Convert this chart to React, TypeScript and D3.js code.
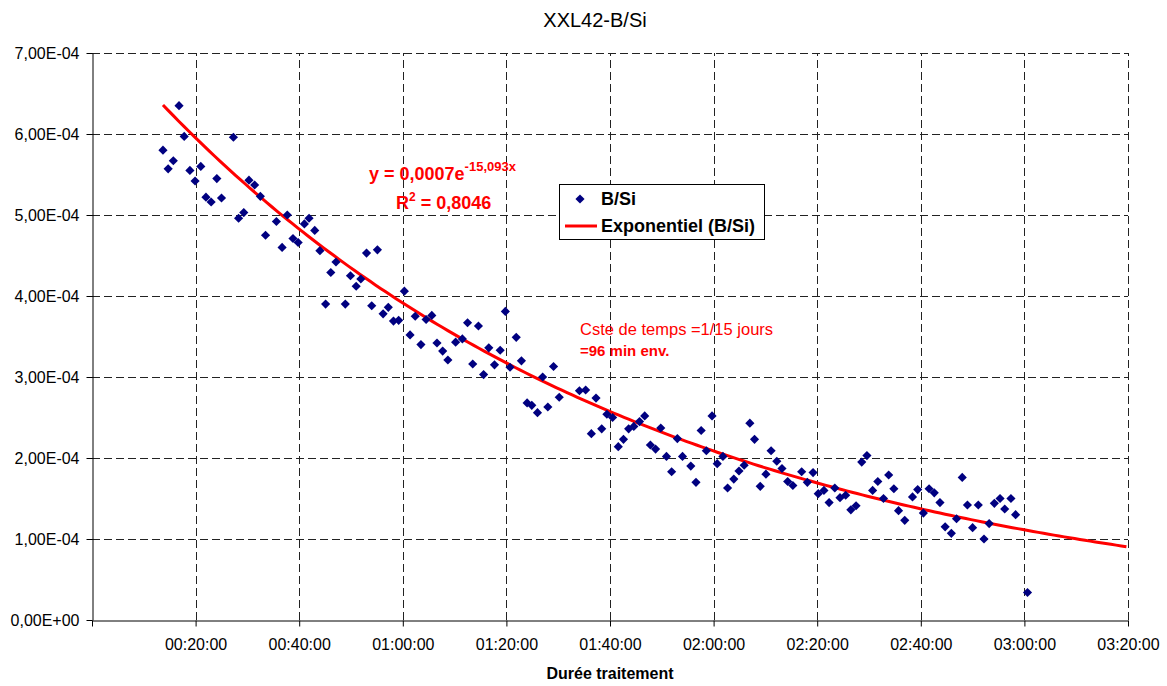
import * as d3 from 'd3'
import { useEffect, useRef } from 'react'

const WIDTH = 1167
const HEIGHT = 686
const MARGINS = { top: 53, right: 39, bottom: 66, left: 92 }
const FONT = '"Liberation Sans", Arial, sans-serif'

// elapsed treatment time, minutes
const MINUTES = [
  13.7, 14.7, 15.7, 16.8, 17.8, 18.9, 19.9, 21.0, 22.0, 23.0,
  24.1, 25.0, 27.3, 28.3, 29.3, 30.3, 31.4, 32.5, 33.5, 35.6,
  36.7, 37.7, 38.8, 39.8,
  41.0, 41.9, 43.0, 44.0, 45.1, 46.1, 47.1, 48.9, 49.9, 51.0,
  51.9, 53.0, 54.0, 55.1, 56.2, 57.2, 58.2, 59.2, 60.3, 61.4,
  62.4, 63.5, 64.5, 65.6, 66.6, 67.7, 68.7,
  70.2, 71.5, 72.5, 73.5, 74.6, 75.6, 76.6, 77.7, 78.8, 79.8,
  80.7, 81.9, 82.9, 84.0, 84.9, 86.0, 87.0, 88.0, 89.1, 90.2,
  94.1, 95.3, 96.4, 97.3, 98.4, 99.4, 100.5, 101.6, 102.6, 103.6,
  104.6, 105.7, 106.7, 107.8, 108.8, 109.8, 110.9, 111.9, 113.0, 114.0,
  115.6, 116.6, 117.6, 118.6, 119.7, 120.7, 121.8, 122.7, 123.9, 124.9,
  125.9, 127.0, 127.9, 129.0,
  130.1, 131.1, 132.2, 133.2, 134.3, 135.3, 137.0, 138.1, 139.2, 140.2,
  141.3, 142.3, 143.4, 144.4, 145.5, 146.5, 147.5, 148.6, 149.6, 150.7,
  151.7, 152.8, 153.8, 154.8, 155.7,
  156.9, 158.4, 159.4, 160.5, 161.6, 162.6, 163.7, 164.7, 165.9, 166.9,
  168.0, 169.0, 170.0, 171.1, 172.2, 173.2, 174.2, 175.3, 176.2, 177.4,
  178.3, 180.6,
]

// B/Si ratio, in units of 1e-4
const B_SI = [
  5.80, 5.57, 5.67, 6.35, 5.97, 5.55, 5.42, 5.60, 5.22, 5.16,
  5.45, 5.21, 5.96, 4.96, 5.03, 5.43, 5.37, 5.23, 4.75, 4.92,
  4.60, 5.00, 4.71, 4.66,
  4.89, 4.96, 4.81, 4.56, 3.90, 4.29, 4.42, 3.90, 4.25, 4.12,
  4.21, 4.53, 3.88, 4.57, 3.78, 3.86, 3.69, 3.70, 4.06, 3.52,
  3.75, 3.40, 3.71, 3.76, 3.42, 3.32, 3.21,
  3.43, 3.47, 3.67, 3.16, 3.63, 3.03, 3.36, 3.15, 3.33, 3.81,
  3.12, 3.49, 3.20, 2.68, 2.65, 2.56, 3.00, 2.63, 3.13, 2.75,
  2.83, 2.84, 2.30, 2.74, 2.36, 2.54, 2.50, 2.14, 2.23, 2.36,
  2.39, 2.45, 2.52, 2.16, 2.11, 2.37, 2.02, 1.83, 2.24, 2.02,
  1.90, 1.70, 2.34, 2.09, 2.52, 1.93, 2.02, 1.63, 1.74, 1.84,
  1.91, 2.43, 2.23, 1.65,
  1.80, 2.09, 1.96, 1.87, 1.71, 1.66, 1.83, 1.70, 1.82, 1.56,
  1.60, 1.45, 1.63, 1.51, 1.54, 1.36, 1.41, 1.95, 2.03, 1.60,
  1.71, 1.50, 1.79, 1.62, 1.35,
  1.23, 1.52, 1.61, 1.32, 1.62, 1.57, 1.45, 1.15, 1.07, 1.25,
  1.76, 1.42, 1.14, 1.42, 1.00, 1.19, 1.44, 1.50, 1.37, 1.50,
  1.30, 0.34,
]
const UNIT = 1e-4

const X_TICKS = [0, 20, 40, 60, 80, 100, 120, 140, 160, 180, 200]
const Y_TICKS = [0, 1, 2, 3, 4, 5, 6, 7]

// Excel exponential trendline, x in days
const TREND_A = 0.000734
const TREND_B = 15.093

const pad2 = (n: number) => String(n).padStart(2, '0')
const formatTime = (m: number) =>
  m === 0 ? '' : `${pad2(Math.floor(m / 60))}:${pad2(m % 60)}:00`
const formatSci = (v: number) => {
  const [mant, exp] = (v * UNIT).toExponential(2).split('e')
  const sign = exp.startsWith('-') ? '-' : '+'
  return `${mant.replace('.', ',')}E${sign}${pad2(Math.abs(Number(exp)))}`
}

export default function App() {
  const ref = useRef<SVGSVGElement>(null)

  useEffect(() => {
    document.body.style.margin = '0'
    const svg = d3.select(ref.current)
    svg.selectAll('*').remove()

    const x = d3
      .scaleLinear()
      .domain([0, 200])
      .range([MARGINS.left, WIDTH - MARGINS.right])
    const y = d3
      .scaleLinear()
      .domain([0, 7])
      .range([HEIGHT - MARGINS.bottom, MARGINS.top])

    svg.append('rect').attr('width', WIDTH).attr('height', HEIGHT).attr('fill', '#fff')

    // grid
    const grid = svg
      .append('g')
      .attr('stroke', '#222')
      .attr('stroke-width', 1)
      .attr('stroke-dasharray', '8 4')
    grid
      .selectAll('line.h')
      .data(Y_TICKS.filter((t) => t > 0))
      .join('line')
      .attr('x1', x(0))
      .attr('x2', x(200))
      .attr('y1', (d) => Math.round(y(d)) + 0.5)
      .attr('y2', (d) => Math.round(y(d)) + 0.5)
    grid
      .selectAll('line.v')
      .data(X_TICKS.filter((t) => t > 0))
      .join('line')
      .attr('x1', (d) => Math.round(x(d)) + 0.5)
      .attr('x2', (d) => Math.round(x(d)) + 0.5)
      .attr('y1', y(0))
      .attr('y2', y(7))

    // axes
    const xAxis = svg
      .append('g')
      .attr('transform', `translate(0,${Math.round(y(0)) + 0.5})`)
      .call(
        d3
          .axisBottom(x)
          .tickValues(X_TICKS)
          .tickFormat((d) => formatTime(d as number))
          .tickSize(6)
          .tickSizeOuter(0)
          .tickPadding(12),
      )
    const yAxis = svg
      .append('g')
      .attr('transform', `translate(${Math.round(x(0)) + 0.5},0)`)
      .call(
        d3
          .axisLeft(y)
          .tickValues(Y_TICKS)
          .tickFormat((d) => formatSci(d as number))
          .tickSize(6)
          .tickSizeOuter(0)
          .tickPadding(7),
      )
    for (const axis of [xAxis, yAxis]) {
      axis.attr('font-family', FONT).attr('font-size', 16)
      axis.selectAll('path, line').attr('stroke', '#000')
      axis.selectAll('text').attr('fill', '#000')
    }
    xAxis.selectAll('text').attr('dy', '0.71em')

    // trendline
    const trendMinutes = d3.range(MINUTES[0], 200.001, 1)
    const curve = d3
      .line<number>()
      .x((m) => x(m))
      .y((m) => y((TREND_A * Math.exp((-TREND_B * m) / 1440)) / UNIT))
    svg
      .append('path')
      .datum(trendMinutes)
      .attr('d', curve)
      .attr('fill', 'none')
      .attr('stroke', '#ff0000')
      .attr('stroke-width', 3)

    // points
    const diamond = d3.symbol(d3.symbolSquare, 42)
    svg
      .append('g')
      .selectAll('path')
      .data(MINUTES.map((m, i) => [m, B_SI[i]] as const))
      .join('path')
      .attr('d', diamond)
      .attr('transform', (d) => `translate(${x(d[0])},${y(d[1])}) rotate(45)`)
      .attr('fill', '#000080')

    // titles
    svg
      .append('text')
      .attr('x', 595)
      .attr('y', 27)
      .attr('text-anchor', 'middle')
      .attr('font-family', FONT)
      .attr('font-size', 20)
      .text('XXL42-B/Si')
    svg
      .append('text')
      .attr('x', x(100))
      .attr('y', 679)
      .attr('text-anchor', 'middle')
      .attr('font-family', FONT)
      .attr('font-size', 16)
      .attr('font-weight', 'bold')
      .text('Durée traitement')

    // equation
    const eq = svg
      .append('text')
      .attr('x', 369)
      .attr('y', 180)
      .attr('font-family', FONT)
      .attr('font-size', 18)
      .attr('font-weight', 'bold')
      .attr('fill', '#ff0000')
    eq.append('tspan').text('y = 0,0007e')
    eq.append('tspan').attr('dy', -9).attr('font-size', 13).text('-15,093x')
    const r2 = svg
      .append('text')
      .attr('x', 396)
      .attr('y', 209)
      .attr('font-family', FONT)
      .attr('font-size', 18)
      .attr('font-weight', 'bold')
      .attr('fill', '#ff0000')
    r2.append('tspan').text('R')
    r2.append('tspan').attr('dy', -8).attr('font-size', 12).text('2')
    r2.append('tspan').attr('dy', 8).text(' = 0,8046')

    // note
    const note = svg
      .append('text')
      .attr('font-family', FONT)
      .attr('font-size', 16.5)
      .attr('fill', '#ff0000')
    note.append('tspan').attr('x', 580).attr('y', 335).text('Cste de temps =1/15 jours')
    note
      .append('tspan')
      .attr('x', 580)
      .attr('y', 356)
      .attr('font-weight', 'bold')
      .attr('font-size', 15)
      .text('=96 min env.')

    // legend
    const legend = svg.append('g').attr('font-family', FONT).attr('font-size', 18).attr('font-weight', 'bold')
    legend
      .append('rect')
      .attr('x', 559.5)
      .attr('y', 184.5)
      .attr('width', 205)
      .attr('height', 55)
      .attr('fill', '#fff')
      .attr('stroke', '#000')
    legend
      .append('path')
      .attr('d', diamond)
      .attr('transform', 'translate(580,199) rotate(45)')
      .attr('fill', '#000080')
    legend.append('text').attr('x', 601).attr('y', 205).text('B/Si')
    legend
      .append('line')
      .attr('x1', 565)
      .attr('x2', 597)
      .attr('y1', 226)
      .attr('y2', 226)
      .attr('stroke', '#ff0000')
      .attr('stroke-width', 3)
    legend.append('text').attr('x', 601).attr('y', 232).text('Exponentiel (B/Si)')
  }, [])

  return <svg ref={ref} width={WIDTH} height={HEIGHT} style={{ display: 'block' }} />
}
